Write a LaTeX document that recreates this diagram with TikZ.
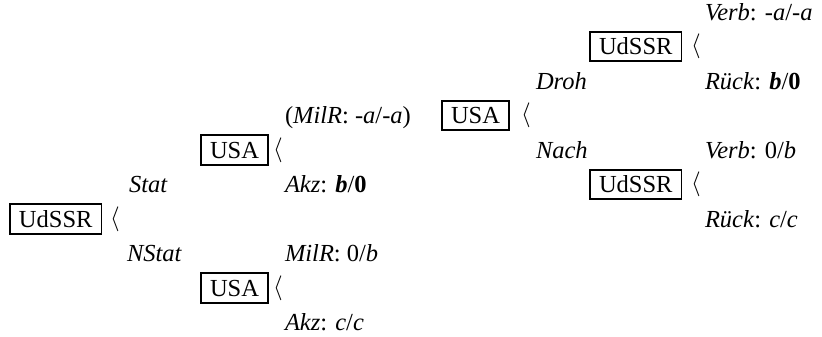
\documentclass[tikz,border=0pt]{standalone}
\usepackage{fontspec}
\setmainfont{Liberation Serif}
\begin{document}
\begin{tikzpicture}[x=1pt,y=1pt,
  every node/.style={inner sep=0pt, outer sep=0pt, text height=16.5pt, text depth=0pt, font=\fontsize{24.5}{29}\selectfont},
  player/.style={draw, line width=1.6pt, inner xsep=9pt, inner ysep=6.5pt, anchor=west},
  lab/.style={anchor=west},
  br/.style={anchor=west, text height=12.5pt, font=\fontsize{25}{29}\selectfont}]
\useasboundingbox (0,0) rectangle (822,337);
% rows (top-down px): r_i = 12 + 34.5 i  -> Y = 337 - r_i
\def\rA{325}   % r0
\def\rB{290.5} % r1
\def\rC{256}   % r2
\def\rD{221.5} % r3
\def\rE{187}   % r4
\def\rF{152.5} % r5
\def\rG{118}   % r6
\def\rH{83.5}  % r7
\def\rI{49}    % r8
\def\rJ{14.5}  % r9
% root
\node[player] (root) at (10,\rG) {UdSSR};
\node[br] (rootb) at (110,\rG) {$\langle$};
\node[lab] (stat) at (129,\rF) {\textit{Stat}};
\node[lab] (nstat) at (127,\rH) {\textit{NStat}};
% USA upper
\node[player] (usa1) at (201,\rE) {USA};
\node[br] (usa1b) at (273,\rE) {$\langle$};
\node[lab] (milr1) at (285,\rD) {(\textit{MilR}: \textit{-a}/\textit{-a})};
\node[lab] (akz1) at (285,\rF) {\textit{Akz}: \textbf{\textit{b}}/\textbf{0}};
% USA lower
\node[player] (usa2) at (201,\rI) {USA};
\node[br] (usa2b) at (273,\rI) {$\langle$};
\node[lab] (milr2) at (285,\rH) {\textit{MilR}: 0/\textit{b}};
\node[lab] (akz2) at (285,\rJ) {\textit{Akz}: \textit{c}/\textit{c}};
% USA middle
\node[player] (usa3) at (442,\rD) {USA};
\node[br] (usa3b) at (521,\rD) {$\langle$};
\node[lab] (droh) at (536,\rC) {\textit{Droh}};
\node[lab] (nach) at (536,\rE) {\textit{Nach}};
% UdSSR upper
\node[player] (ud1) at (590,\rB) {UdSSR};
\node[br] (ud1b) at (691,\rB) {$\langle$};
\node[lab] (verb1) at (705,\rA) {\textit{Verb}: \textit{-a}/\textit{-a}};
\node[lab] (rueck1) at (705,\rC) {\textit{Rück}: \textbf{\textit{b}}/\textbf{0}};
% UdSSR lower
\node[player] (ud2) at (590,\rF) {UdSSR};
\node[br] (ud2b) at (691,\rF) {$\langle$};
\node[lab] (verb2) at (705,\rE) {\textit{Verb}: 0/\textit{b}};
\node[lab] (rueck2) at (705,\rG) {\textit{Rück}: \textit{c}/\textit{c}};
\end{tikzpicture}
\end{document}
